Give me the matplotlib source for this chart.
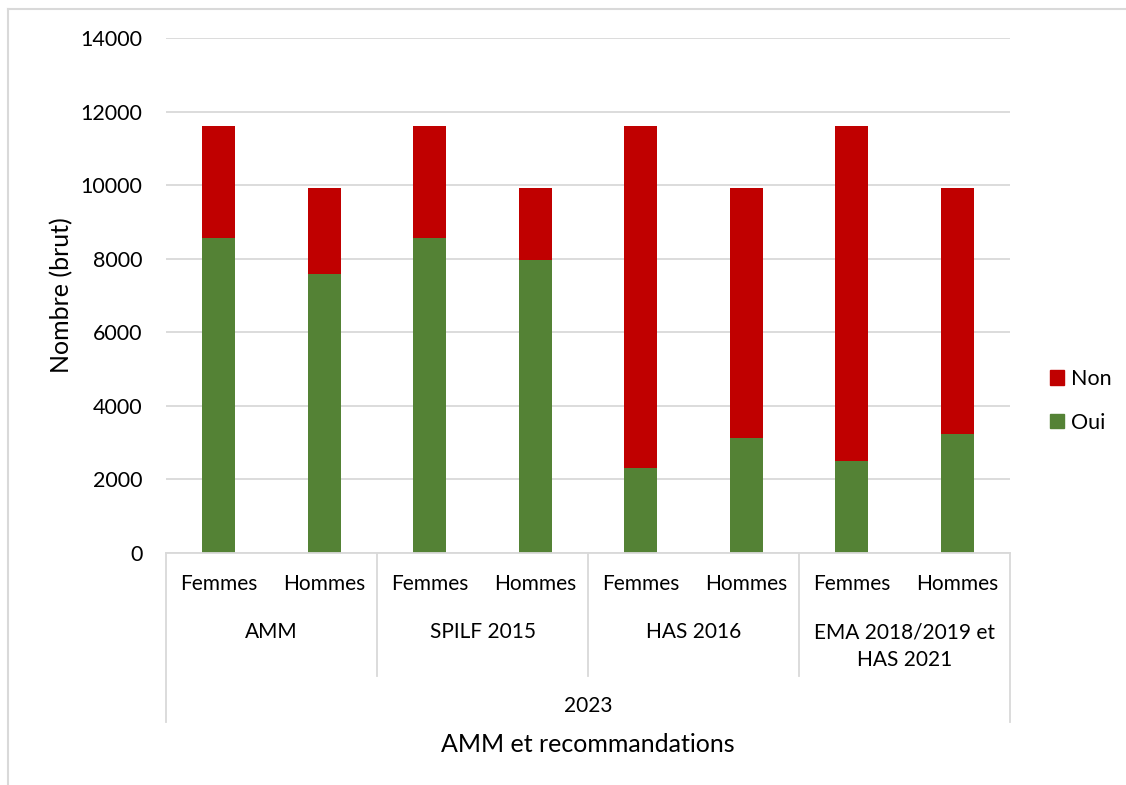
import matplotlib
matplotlib.use('Agg')
import matplotlib.pyplot as plt
import matplotlib.transforms as mtransforms
from matplotlib.lines import Line2D
from matplotlib.patches import Patch
import numpy as np

groups = ['AMM', 'SPILF 2015', 'HAS 2016', 'EMA 2018/2019 et\nHAS 2021']
sexes = ['Femmes', 'Hommes']
totaux = [11610, 9915, 11610, 9915, 11610, 9915, 11610, 9915]
oui = [8570, 7580, 8570, 7960, 2300, 3120, 2500, 3230]
non = [t - o for t, o in zip(totaux, oui)]
yticks = [0, 2000, 4000, 6000, 8000, 10000, 12000, 14000]

green = '#548235'
red = '#C00000'
grid = '#D9D9D9'

plt.rcParams['font.family'] = ['Lato', 'DejaVu Sans']
plt.rcParams['font.size'] = 15

W, H = 1126, 785
fig = plt.figure(figsize=(W / 100, H / 100), dpi=100)
ax = fig.add_axes([166 / W, 1 - 553 / H, (1010 - 166) / W, (553 - 38) / H])

x = np.arange(len(oui))
ax.bar(x, oui, width=0.31, color=green, zorder=3, label='Oui')
ax.bar(x, non, bottom=oui, width=0.31, color=red, zorder=3, label='Non')

ax.set_xlim(-0.5, len(oui) - 0.5)
ax.set_ylim(0, 14000)
ax.set_yticks(yticks)
ax.set_yticklabels([str(v) for v in yticks])
ax.tick_params(axis='y', length=0, pad=17, labelsize=15.5)
ax.set_xticks([])
ax.yaxis.grid(True, color=grid, linewidth=1.3, zorder=0)
for s in ['top', 'right', 'left']:
    ax.spines[s].set_visible(False)
ax.spines['bottom'].set_color(grid)
ax.spines['bottom'].set_linewidth(1.3)
ax.spines['bottom'].set_zorder(4)

ax.set_ylabel('Nombre (brut)', fontsize=18)
ax.yaxis.set_label_coords(-0.11, 0.5)

# hierarchical category axis
trans = mtransforms.blended_transform_factory(ax.transData, ax.transAxes)
for i in range(len(oui)):
    ax.text(x[i], -0.06, sexes[i % 2], transform=trans, ha='center', va='center')
for g, name in enumerate(groups):
    yy = -0.181 if '\n' in name else -0.153
    ax.text(2 * g + 0.5, yy, name, transform=trans, ha='center', va='center',
            linespacing=1.5)
for b in [1.5, 3.5, 5.5]:
    ax.add_line(Line2D([b, b], [0, -0.239], transform=trans, color=grid,
                       linewidth=1.3, clip_on=False))
for b in [-0.5, len(oui) - 0.5]:
    ax.add_line(Line2D([b, b], [0, -0.328], transform=trans, color=grid,
                       linewidth=1.3, clip_on=False))
ax.text(0.5, -0.297, '2023', transform=ax.transAxes, ha='center', va='center')
ax.text(0.5, -0.371, 'AMM et recommandations', transform=ax.transAxes,
        ha='center', va='center', fontsize=18)

handles = [Patch(color=red, label='Non'), Patch(color=green, label='Oui')]
fig.legend(handles=handles, loc='center left', bbox_to_anchor=(1031 / W, 1 - 401 / H),
           frameon=False, handlelength=0.65, handleheight=0.65, handletextpad=0.3,
           labelspacing=1.1, fontsize=15.5)

# chart area border
fig.add_artist(Line2D([8 / W, 1], [1 - 9 / H, 1 - 9 / H], transform=fig.transFigure,
                      color=grid, linewidth=1.5))
fig.add_artist(Line2D([8 / W, 8 / W], [0, 1 - 9 / H], transform=fig.transFigure,
                      color=grid, linewidth=1.5))

fig.savefig('out.png', dpi=100)
